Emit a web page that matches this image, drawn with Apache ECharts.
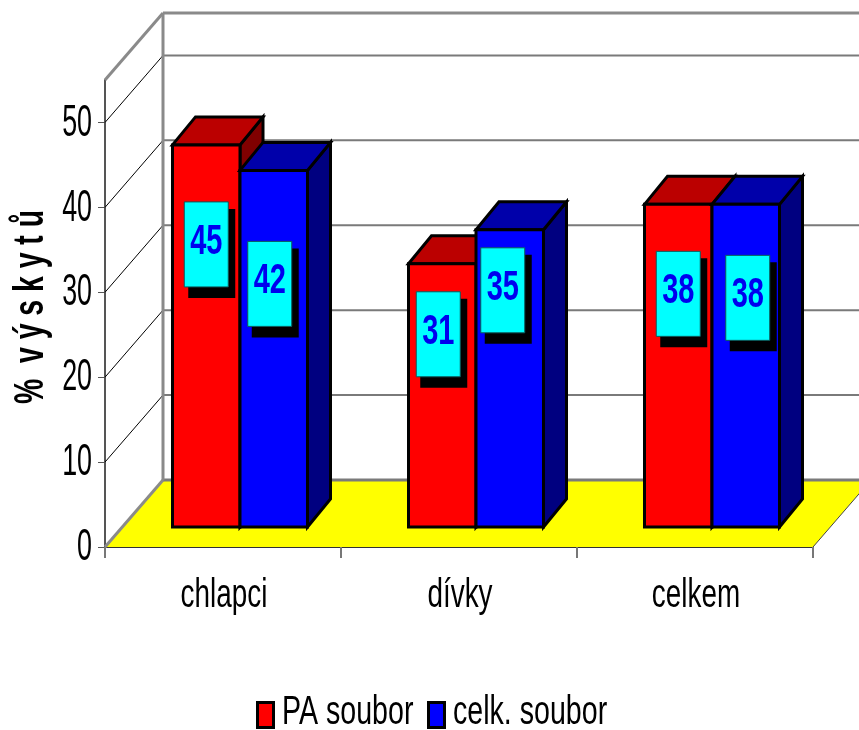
<!DOCTYPE html>
<html><head><meta charset="utf-8">
<style>html,body{margin:0;padding:0;background:#fff}#c{width:859px;height:730px}</style>
<script src="https://cdn.jsdelivr.net/npm/echarts@6/dist/echarts.min.js"></script>
</head><body><div id="c"></div>
<script>
const categories = ['chlapci', 'dívky', 'celkem'];
const paSoubor = [45, 31, 38];
const celkSoubor = [42, 35, 38];
const yTicks = [0, 10, 20, 30, 40, 50];
const seriesNames = ['PA soubor', 'celk. soubor'];
const seriesColors = ['#ff0000', '#0000ff'];
const yTitle = '%  v ý s k y t ů';

// Projection of the 3D look (pixels), not data
const WALL = {dx: 58, dy: -67};
const BAR = {lift: 20, shift: 17, width: 67.5, dx: 23, dy: -28};
// value box placement per bar: offset from bar front centre / bar top
const boxNudge = [[[0,57],[-4,71]],[[-4,28],[-7,18]],[[0,47],[2,51]]];
const FONT = '"Liberation Sans",Arial,sans-serif';

const chart = echarts.init(document.getElementById('c'), null, {renderer:'canvas'});

function renderWalls(params, api){
  const left = params.coordSys.x, right = left + params.coordSys.width;
  const y0 = params.coordSys.y + params.coordSys.height, yTop = params.coordSys.y;
  const d = WALL;
  const kids = [];
  kids.push({type:'polygon', shape:{points:[[left,y0],[left+d.dx,y0+d.dy],[right+d.dx,y0+d.dy],[right,y0]]},
    style:{fill:'#ffff00'}});
  yTicks.forEach(v=>{
    const y = api.coord([0, v])[1];
    if (v > 0) {
      kids.push({type:'line', shape:{x1:left,y1:y,x2:left+d.dx,y2:y+d.dy}, style:{stroke:'#000',lineWidth:1}});
    }
    kids.push({type:'line', shape:{x1:left+d.dx,y1:y+d.dy,x2:right+d.dx,y2:y+d.dy},
      style:{stroke: '#7a7a7a', lineWidth: v===0?3:2}});
  });
  const gs = {stroke:'#8a8a8a', lineWidth:3};
  kids.push({type:'line', shape:{x1:left+d.dx,y1:yTop+d.dy,x2:left+d.dx,y2:y0+d.dy}, style:gs});
  kids.push({type:'line', shape:{x1:left+d.dx,y1:yTop+d.dy,x2:right+d.dx,y2:yTop+d.dy}, style:gs});
  kids.push({type:'line', shape:{x1:left,y1:yTop,x2:left+d.dx,y2:yTop+d.dy}, style:gs});
  kids.push({type:'line', shape:{x1:left,y1:y0,x2:left+d.dx,y2:y0+d.dy}, style:gs});
  kids.push({type:'line', shape:{x1:right,y1:y0,x2:right+d.dx,y2:y0+d.dy}, style:{stroke:'#444',lineWidth:1}});
  // condensed axis title
  kids.push({type:'text', x:31, y:307, rotation:Math.PI/2, scaleX:0.66,
    style:{text:yTitle, fill:'#000', align:'center', verticalAlign:'middle', font:'bold 43px '+FONT}});
  return {type:'group', children:kids};
}

function barRenderer(side, front, top, flank){
  return function(params, api){
    const c = api.coord([api.value(0), api.value(1)]);
    const b = api.coord([api.value(0), 0]);
    const x0 = c[0] + BAR.shift + (side ? 0 : -BAR.width), x1 = x0 + BAR.width;
    const yt = c[1] - BAR.lift, yb = b[1] - BAR.lift;
    const {dx, dy} = BAR;
    const st = {stroke:'#000', lineWidth:3, lineJoin:'miter'};
    return {type:'group', children:[
      {type:'polygon', shape:{points:[[x1,yt],[x1+dx,yt+dy],[x1+dx,yb+dy],[x1,yb]]}, style:{fill:flank,...st}},
      {type:'polygon', shape:{points:[[x0,yt],[x0+dx,yt+dy],[x1+dx,yt+dy],[x1,yt]]}, style:{fill:top,...st}},
      {type:'rect', shape:{x:x0,y:yt,width:BAR.width,height:yb-yt}, style:{fill:front,...st}}
    ]};
  };
}

function labelRenderer(side){
  return function(params, api){
    const idx = api.value(0), val = api.value(1);
    const c = api.coord([idx, val]);
    const cx = c[0] + BAR.shift + (side ? BAR.width/2 : -BAR.width/2);
    const n = boxNudge[idx][side];
    const w = 44, h = 85;
    const x = cx + n[0] - w/2, y = c[1] - BAR.lift + n[1];
    return {type:'group', children:[
      {type:'rect', shape:{x:x+4,y:y+7,width:w+3,height:h+4}, style:{fill:'#000'}},
      {type:'rect', shape:{x:x,y:y,width:w,height:h}, style:{fill:'#00ffff',stroke:'#0a5a5a',lineWidth:1}},
      {type:'text', x:x+w/2, y:y+h/2-2, scaleX:0.69, style:{text:String(val), fill:'#0000ee', align:'center', verticalAlign:'middle',
        font:'bold 42px '+FONT}}
    ]};
  };
}

function yLabelRenderer(params, api){
  const v = api.value(1);
  const p = api.coord([0, v]);
  return {type:'text', x:params.coordSys.x-13, y:p[1]+1, scaleX:0.61,
    style:{text:String(v), fill:'#000', align:'right', verticalAlign:'middle', font:'44px '+FONT}};
}

function xLabelRenderer(params, api){
  const i = api.value(0);
  const p = api.coord([i, 0]);
  return {type:'text', x:p[0]+1, y:p[1]+49, scaleX:0.68,
    style:{text:categories[i], fill:'#000', align:'center', verticalAlign:'middle', font:'41px '+FONT}};
}

const rows = a => a.map((v,i)=>[i,v]);
const legendX = [[256,282],[427,453]];
const legendItems = [];
seriesNames.forEach((name,i)=>{
  legendItems.push({type:'rect', left:legendX[i][0], top:701, shape:{width:16,height:25},
    style:{fill:seriesColors[i], stroke:'#000', lineWidth:3}});
  legendItems.push({type:'text', x:legendX[i][1], y:713, scaleX:0.715,
    style:{text:name, fill:'#000', align:'left', verticalAlign:'middle', font:'40px '+FONT}});
});

chart.setOption({
  animation:false,
  backgroundColor:'#fff',
  grid:{left:105, top:80, width:708, height:467, containLabel:false},
  graphic:legendItems,
  xAxis:{type:'category', data:categories, boundaryGap:true,
    axisLine:{lineStyle:{color:'#333',width:2}},
    axisTick:{show:true, alignWithLabel:false, interval:0, length:11, lineStyle:{color:'#777',width:2}},
    axisLabel:{show:false},
    splitLine:{show:false}},
  yAxis:{type:'value', min:0, max:55, interval:10,
    axisLine:{show:true, lineStyle:{color:'#555',width:2}},
    axisTick:{show:true, length:7, customValues:yTicks, lineStyle:{color:'#555',width:1}},
    axisLabel:{show:false},
    splitLine:{show:false}},
  series:[
    {type:'custom', name:'walls', silent:true, clip:false, z:1, data:[[0,0]], renderItem:renderWalls, encode:{x:0,y:1}},
    {type:'custom', name:seriesNames[0], z:2, clip:false, data:rows(paSoubor), encode:{x:0,y:1},
      renderItem:barRenderer(0,seriesColors[0],'#bb0000','#800000')},
    {type:'custom', name:seriesNames[1], z:3, clip:false, data:rows(celkSoubor), encode:{x:0,y:1},
      renderItem:barRenderer(1,seriesColors[1],'#0000aa','#000080')},
    {type:'custom', name:'labelsA', z:4, clip:false, silent:true, data:rows(paSoubor), encode:{x:0,y:1}, renderItem:labelRenderer(0)},
    {type:'custom', name:'labelsB', z:5, clip:false, silent:true, data:rows(celkSoubor), encode:{x:0,y:1}, renderItem:labelRenderer(1)},
    {type:'custom', name:'yLabels', z:6, clip:false, silent:true, data:yTicks.map(v=>[0,v]), encode:{x:0,y:1}, renderItem:yLabelRenderer},
    {type:'custom', name:'xLabels', z:6, clip:false, silent:true, data:categories.map((c,i)=>[i,0]), encode:{x:0,y:1}, renderItem:xLabelRenderer}
  ]
});
</script></body></html>
